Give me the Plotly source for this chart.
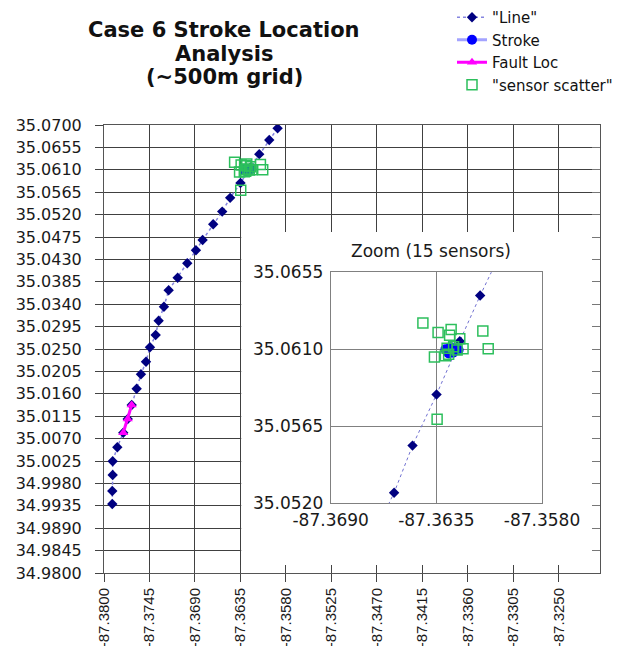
import plotly.graph_objects as go

# ---------------- data ----------------
line_lon = [-87.35900, -87.36001, -87.36122, -87.36228, -87.36349, -87.36474, -87.36570,
            -87.36679, -87.36807, -87.36888, -87.36993, -87.37109, -87.37218, -87.37275,
            -87.37339, -87.37375, -87.37444, -87.37492, -87.37553, -87.37605, -87.37665,
            -87.37713, -87.37767, -87.37839, -87.37895, -87.37895, -87.37900, -87.37900]
line_lat = [35.06934, 35.06699, 35.06414, 35.06147, 35.05835, 35.05536, 35.05260,
            35.05005, 35.04690, 35.04483, 35.04222, 35.03932, 35.03679, 35.03350,
            35.03068, 35.02781, 35.02534, 35.02245, 35.01992, 35.01702, 35.01375,
            35.01094, 35.00818, 35.00525, 35.00244, 34.99968, 34.99647, 34.99386]

stroke_lon = [-87.36303, -87.36277, -87.36251, -87.36263, -87.36234, -87.36286]
stroke_lat = [35.06099, 35.06111, 35.06105, 35.06079, 35.06095, 35.06075]

fault_lon = [-87.37665, -87.37713, -87.37767]
fault_lat = [35.01375, 35.01094, 35.00818]

sensor_lon = [-87.36420, -87.36341, -87.36273, -87.36281, -87.36228, -87.36108, -87.36080,
              -87.36211, -87.36360, -87.36303, -87.36286, -87.36346, -87.36260, -87.36294,
              -87.36242]
sensor_lat = [35.06253, 35.06198, 35.06216, 35.06181, 35.06161, 35.06206, 35.06102,
              35.06102, 35.06054, 35.06061, 35.06071, 35.05690, 35.06114, 35.06105,
              35.06095]

main_x_ticks = [-87.3800, -87.3745, -87.3690, -87.3635, -87.3580, -87.3525, -87.3470,
                -87.3415, -87.3360, -87.3305, -87.3250]
main_x_labels = ["-87.3800", "-87.3745", "-87.3690", "-87.3635", "-87.3580", "-87.3525",
                 "-87.3470", "-87.3415", "-87.3360", "-87.3305", "-87.3250"]
main_y_ticks = [34.9800, 34.9845, 34.9890, 34.9935, 34.9980, 35.0025, 35.0070, 35.0115,
                35.0160, 35.0205, 35.0250, 35.0295, 35.0340, 35.0385, 35.0430, 35.0475,
                35.0520, 35.0565, 35.0610, 35.0655, 35.0700]
main_y_labels = ["34.9800", "34.9845", "34.9890", "34.9935", "34.9980", "35.0025", "35.0070",
                 "35.0115", "35.0160", "35.0205", "35.0250", "35.0295", "35.0340", "35.0385",
                 "35.0430", "35.0475", "35.0520", "35.0565", "35.0610", "35.0655", "35.0700"]
inset_x_ticks = [-87.3690, -87.3635, -87.3580]
inset_x_labels = ["-87.3690", "-87.3635", "-87.3580"]
inset_y_ticks = [35.0520, 35.0565, 35.0610, 35.0655]
inset_y_labels = ["35.0520", "35.0565", "35.0610", "35.0655"]

title_lines = ["Case 6 Stroke Location", "Analysis", "(~500m grid)"]
inset_title = "Zoom (15 sensors)"

# ---------------- layout helpers (page has an 8px body margin) ----------------
W, H = 634, 646
OFF = 8


def px(X):
    return (X - OFF) / W


def py(Y):
    return 1 - (Y - OFF) / H


LINE_MARK = dict(symbol="diamond", size=8, color="#000080")
LINE_LINE = dict(color="#8585e0", width=1.5, dash="dot")
STROKE_MARK = dict(symbol="circle", size=10, color="#0000ff")
STROKE_LINE = dict(color="#a3a3ff", width=3)
FAULT_MARK = dict(symbol="triangle-up", size=9, color="#ff00ff")
FAULT_LINE = dict(color="#ff00ff", width=3)
SENSOR_MARK = dict(symbol="square-open", size=10, color="#2cbf5c",
                   line=dict(width=1.5, color="#2cbf5c"))

fig = go.Figure()

# main chart
fig.add_trace(go.Scatter(x=line_lon, y=line_lat, mode="lines+markers", name='"Line"',
                         marker=LINE_MARK, line=LINE_LINE, legendgroup="line",
                         xaxis="x", yaxis="y"))
fig.add_trace(go.Scatter(x=stroke_lon, y=stroke_lat, mode="lines+markers", name="Stroke",
                         marker=STROKE_MARK, line=STROKE_LINE, legendgroup="stroke",
                         xaxis="x", yaxis="y"))
fig.add_trace(go.Scatter(x=fault_lon, y=fault_lat, mode="lines+markers", name="Fault Loc",
                         marker=FAULT_MARK, line=FAULT_LINE, legendgroup="fault",
                         xaxis="x", yaxis="y"))
fig.add_trace(go.Scatter(x=sensor_lon, y=sensor_lat, mode="markers", name='"sensor scatter"',
                         marker=SENSOR_MARK, legendgroup="sensor",
                         xaxis="x", yaxis="y"))

# inset (zoom)
fig.add_trace(go.Scatter(x=line_lon, y=line_lat, mode="lines+markers", showlegend=False,
                         marker=LINE_MARK, line=dict(color="#7070d0", width=1, dash="dot"),
                         legendgroup="line", xaxis="x2", yaxis="y2"))
fig.add_trace(go.Scatter(x=stroke_lon, y=stroke_lat, mode="lines+markers", showlegend=False,
                         marker=STROKE_MARK, line=STROKE_LINE, legendgroup="stroke",
                         xaxis="x2", yaxis="y2"))
fig.add_trace(go.Scatter(x=sensor_lon, y=sensor_lat, mode="markers", showlegend=False,
                         marker=SENSOR_MARK, legendgroup="sensor",
                         xaxis="x2", yaxis="y2"))

# empty trace that carries the mirrored inside tick marks
fig.add_trace(go.Scatter(x=[], y=[], mode="markers", showlegend=False, hoverinfo="skip",
                         xaxis="x3", yaxis="y3"))

main_xdom = [px(104), px(600)]
main_ydom = [py(573), py(125)]
inset_xdom = [px(330.7), px(542)]
inset_ydom = [py(503), py(272.3)]

GRID = "#404040"
TXT = "#1a1a1a"
fig.update_layout(
    template="none",
    width=W, height=H,
    margin=dict(l=0, r=0, t=0, b=0, autoexpand=False),
    paper_bgcolor="white", plot_bgcolor="white",
    font=dict(family="DejaVu Sans", color=TXT),
    xaxis=dict(domain=main_xdom, range=[-87.38, -87.32], anchor="y", automargin=False,
               tickmode="array", tickvals=main_x_ticks, ticktext=main_x_labels,
               tickangle=-90, ticks="outside", ticklen=8, tickcolor="#444444",
               tickfont=dict(family="Liberation Sans", size=15, color=TXT),
               showgrid=True, gridcolor=GRID, gridwidth=1,
               showline=True, linecolor="#555555", linewidth=1, mirror=True, zeroline=False),
    yaxis=dict(domain=main_ydom, range=[34.98, 35.07], anchor="x", automargin=False,
               tickmode="array", tickvals=main_y_ticks, ticktext=main_y_labels,
               ticks="outside", ticklen=8, tickcolor="#444444", ticklabelstandoff=10,
               tickfont=dict(family="DejaVu Sans", size=16, color=TXT),
               showgrid=True, gridcolor=GRID, gridwidth=1,
               showline=True, linecolor="#555555", linewidth=1, mirror=True, zeroline=False),
    xaxis3=dict(overlaying="x", anchor="y3", side="bottom", range=[-87.38, -87.32],
                automargin=False,
                tickmode="array", tickvals=main_x_ticks, ticks="inside", ticklen=8,
                tickcolor="#444444", showticklabels=False, showgrid=False,
                showline=False, zeroline=False),
    yaxis3=dict(overlaying="y", anchor="x3", side="right", range=[34.98, 35.07],
                automargin=False,
                tickmode="array", tickvals=main_y_ticks, ticks="inside", ticklen=8,
                tickcolor="#777777", showticklabels=False, showgrid=False,
                showline=False, zeroline=False),
    xaxis2=dict(domain=inset_xdom, range=[-87.369, -87.358], anchor="y2", automargin=False,
                tickmode="array", tickvals=inset_x_ticks, ticktext=inset_x_labels,
                ticks="outside", ticklen=2, tickcolor="rgba(0,0,0,0)",
                tickfont=dict(family="DejaVu Sans", size=17, color=TXT),
                showgrid=True, gridcolor="#808080", gridwidth=1,
                showline=True, linecolor="#808080", mirror=True, zeroline=False),
    yaxis2=dict(domain=inset_ydom, range=[35.052, 35.0655], anchor="x2", automargin=False,
                tickmode="array", tickvals=inset_y_ticks, ticktext=inset_y_labels,
                ticks="outside", ticklen=3, tickcolor="rgba(0,0,0,0)",
                tickfont=dict(family="DejaVu Sans", size=17, color=TXT),
                showgrid=True, gridcolor="#808080", gridwidth=1,
                showline=True, linecolor="#808080", mirror=True, zeroline=False),
    legend=dict(x=px(452), y=py(1), xanchor="left", yanchor="top",
                bgcolor="rgba(0,0,0,0)", font=dict(family="DejaVu Sans", size=15, color="#111111"),
                tracegroupgap=0),
    shapes=[dict(type="rect", xref="x", yref="y", x0=-87.3634, x1=-87.32,
                 y0=34.98, y1=35.0485, fillcolor="white", line=dict(width=0),
                 layer="between")],
    annotations=[
        dict(text="<b>" + title_lines[0] + "</b>", xref="paper", yref="paper",
             x=px(224), y=py(30.5), xanchor="center", yanchor="middle", showarrow=False,
             font=dict(family="DejaVu Sans", size=21, color="#111111")),
        dict(text="<b>" + title_lines[1] + "</b>", xref="paper", yref="paper",
             x=px(224), y=py(54), xanchor="center", yanchor="middle", showarrow=False,
             font=dict(family="DejaVu Sans", size=21, color="#111111")),
        dict(text="<b>" + title_lines[2] + "</b>", xref="paper", yref="paper",
             x=px(224), y=py(76.5), xanchor="center", yanchor="middle", showarrow=False,
             font=dict(family="DejaVu Sans", size=21, color="#111111")),
        dict(text=inset_title, xref="paper", yref="paper",
             x=px(430.5), y=py(251), xanchor="center", yanchor="middle",
             showarrow=False, font=dict(family="DejaVu Sans", size=17, color=TXT)),
    ],
)

fig.write_html("out.html")
